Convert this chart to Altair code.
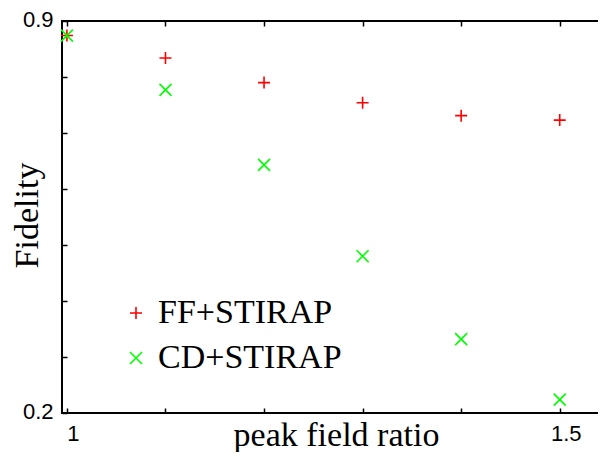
import altair as alt
import pandas as pd

# ---- data ----
ratio = [1.0, 1.1, 1.2, 1.3, 1.4, 1.5]
ff_stirap = [0.874, 0.834, 0.790, 0.754, 0.731, 0.723]
cd_stirap = [0.874, 0.777, 0.643, 0.480, 0.332, 0.224]
series_names = ["FF+STIRAP", "CD+STIRAP"]
series_colors = ["#ff0000", "#00ff00"]

x_ticks = [1.0, 1.1, 1.2, 1.3, 1.4, 1.5]
x_tick_labels = {1.0: "1", 1.5: "1.5"}
y_ticks = [0.2, 0.3, 0.4, 0.5, 0.6, 0.7, 0.8, 0.9]
y_tick_labels = {0.2: "0.2", 0.9: "0.9"}

df = pd.DataFrame({
    "ratio": ratio + ratio,
    "fidelity": ff_stirap + cd_stirap,
    "method": [series_names[0]] * len(ratio) + [series_names[1]] * len(ratio),
})

PLUS = "M-1,0L1,0M0,-1L0,1"
CROSS = "M-1,-1L1,1M-1,1L1,-1"


def label_expr(mapping):
    expr = "''"
    for v, s in mapping.items():
        expr = f"datum.value == {v} ? '{s}' : ({expr})"
    return expr


xscale = alt.Scale(domain=[0.995, 1.55], nice=False, zero=False)
yscale = alt.Scale(domain=[0.2, 0.9], nice=False, zero=False)

tick_common = dict(domain=False, ticks=True, tickSize=5, offset=-5,
                   tickColor="black", tickWidth=1.5, grid=False)

legend = alt.Legend(
    orient="none", legendX=57, legendY=275, title=None, padding=0,
    labelFont="Liberation Serif", labelFontSize=34, labelColor="black",
    labelLimit=400, labelOffset=5, rowPadding=11,
    symbolSize=144, symbolStrokeWidth=1.6, symbolFillColor="transparent",
)

points = alt.Chart(df).mark_point(filled=False, size=144, strokeWidth=1.6, opacity=1).encode(
    x=alt.X("ratio:Q", scale=xscale, axis=alt.Axis(
        orient="bottom", values=x_ticks, labelExpr=label_expr(x_tick_labels),
        labelFlush=False, labelOverlap=False, labelPadding=10, labelOffset=6,
        title="peak field ratio", titleX=274, titleY=37,
        titleBaseline="alphabetic", titleAlign="center", **tick_common)),
    y=alt.Y("fidelity:Q", scale=yscale, axis=alt.Axis(
        orient="left", values=y_ticks, labelExpr=label_expr(y_tick_labels),
        labelOverlap=False, labelPadding=9, labelOffset=-2,
        title="Fidelity", titleX=-30, titleY=194, titleAngle=-90,
        titleBaseline="alphabetic", titleAlign="center", **tick_common)),
    color=alt.Color("method:N", scale=alt.Scale(domain=series_names, range=series_colors), legend=legend),
    shape=alt.Shape("method:N", scale=alt.Scale(domain=series_names, range=[PLUS, CROSS]), legend=legend),
)

mirror = alt.Chart(df).mark_point(opacity=0).encode(
    x=alt.X("ratio:Q", scale=xscale, axis=alt.Axis(
        orient="top", values=x_ticks, labels=False, title=None, **tick_common)),
    y=alt.Y("fidelity:Q", scale=yscale, axis=alt.Axis(
        orient="right", values=y_ticks, labels=False, title=None, **tick_common)),
)

chart = alt.layer(points, mirror).resolve_axis(x="independent", y="independent").properties(
    width=547, height=392,
    autosize=alt.AutoSizeParams(type="none"),
    padding={"left": 54, "top": 13, "right": -11, "bottom": 39},
).configure_view(
    stroke="black", strokeWidth=2
).configure_axis(
    labelFont="Liberation Sans", labelFontSize=22, labelColor="black",
    titleFont="Liberation Serif", titleFontSize=34, titleFontWeight="normal", titleColor="black",
)

chart.save("out.html", embed_options={"renderer": "svg", "actions": False})
